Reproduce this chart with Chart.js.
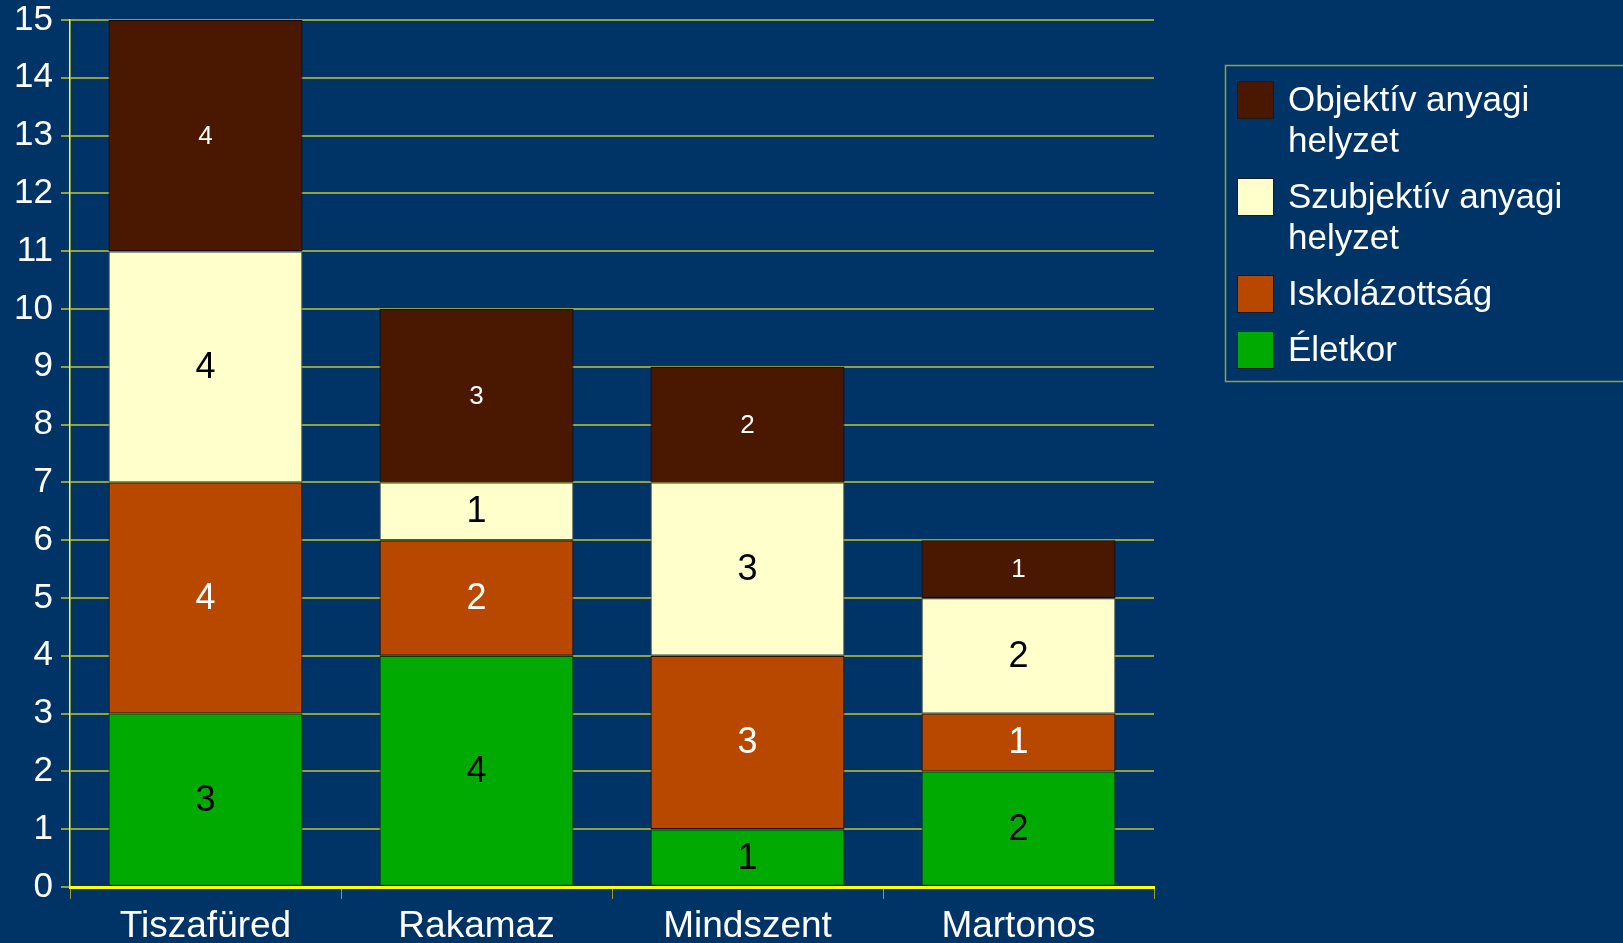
<!DOCTYPE html>
<html>
<head>
<meta charset="utf-8">
<script src="https://cdn.jsdelivr.net/npm/chart.js@4.4.1/dist/chart.umd.min.js"></script>
<style>
  html, body { margin: 0; padding: 0; background: #003366; overflow: hidden; }
  #wrap { width: 1623px; height: 943px; }
</style>
</head>
<body>
<div id="wrap"><canvas id="chart" width="1623" height="943"></canvas></div>
<script>
// Data
const towns = ["Tiszafüred", "Rakamaz", "Mindszent", "Martonos"];
const eletkor = [3, 4, 1, 2];
const iskolazottsag = [4, 2, 3, 1];
const szubjektiv = [4, 1, 3, 2];
const objektiv = [4, 3, 2, 1];
const yTicks = [0, 1, 2, 3, 4, 5, 6, 7, 8, 9, 10, 11, 12, 13, 14, 15];

const FONT = "'Liberation Sans', Arial, sans-serif";
const GRID = "#95a03a";

// value labels centred in each segment
const segmentLabels = {
  id: "segmentLabels",
  afterDatasetsDraw(chart) {
    const ctx = chart.ctx;
    chart.data.datasets.forEach((ds, i) => {
      const meta = chart.getDatasetMeta(i);
      meta.data.forEach((bar, j) => {
        const v = ds.data[j];
        if (!v) return;
        ctx.save();
        ctx.fillStyle = ds.labelColor;
        ctx.font = ds.labelSize + "px " + FONT;
        ctx.textAlign = "center";
        ctx.textBaseline = "middle";
        ctx.fillText(String(v), bar.x, (bar.y + bar.base) / 2 + 1);
        ctx.restore();
      });
    });
  }
};

// legend box on the right, wraps long names
const sideLegend = {
  id: "sideLegend",
  afterDraw(chart) {
    const ctx = chart.ctx;
    const boxX = 1225, boxY = 65, boxW = 420, boxH = 316;
    ctx.save();
    ctx.strokeStyle = GRID;
    ctx.lineWidth = 1.5;
    ctx.strokeRect(boxX + 0.5, boxY + 0.5, boxW, boxH);
    ctx.font = "35px " + FONT;
    ctx.textBaseline = "alphabetic";
    ctx.textAlign = "left";
    const maxW = 325, lineH = 41;
    let y = 81;
    const items = chart.data.datasets.slice().reverse();
    items.forEach(ds => {
      // wrap words
      const words = ds.label.split(" ");
      const lines = [];
      let cur = "";
      words.forEach(w => {
        const t = cur ? cur + " " + w : w;
        if (ctx.measureText(t).width > maxW && cur) { lines.push(cur); cur = w; }
        else cur = t;
      });
      lines.push(cur);
      ctx.fillStyle = ds.backgroundColor;
      ctx.fillRect(1237, y, 36, 37);
      ctx.strokeStyle = "#1a1a1a";
      ctx.lineWidth = 1;
      ctx.strokeRect(1237.5, y + 0.5, 36, 37);
      ctx.fillStyle = "#ffffff";
      lines.forEach((ln, k) => ctx.fillText(ln, 1288, y + 30 + k * lineH));
      y += lines.length === 1 ? 56 : 97;
    });
    ctx.restore();
  }
};

new Chart(document.getElementById("chart"), {
  type: "bar",
  data: {
    labels: towns,
    datasets: [
      { label: "Életkor", data: eletkor, backgroundColor: "#00aa00", borderColor: "#0a3a0a", labelColor: "#000000", labelSize: 36 },
      { label: "Iskolázottság", data: iskolazottsag, backgroundColor: "#b84800", borderColor: "#2a1000", labelColor: "#ffffff", labelSize: 36 },
      { label: "Szubjektív anyagi helyzet", data: szubjektiv, backgroundColor: "#ffffcc", borderColor: "#555544", labelColor: "#000000", labelSize: 36 },
      { label: "Objektív anyagi helyzet", data: objektiv, backgroundColor: "#4a1800", borderColor: "#1a0800", labelColor: "#ffffff", labelSize: 26 },
    ].map(d => Object.assign(d, { borderWidth: 1.2, borderSkipped: false, categoryPercentage: 1, barPercentage: 0.716 })),
  },
  options: {
    responsive: false,
    animation: false,
    layout: { padding: { top: 0, right: 469, left: 0, bottom: 0 } },
    plugins: { legend: { display: false }, tooltip: { enabled: false } },
    scales: {
      x: {
        stacked: true,
        grid: { display: true, drawOnChartArea: false, offset: true, color: GRID, tickLength: 12 },
        border: { color: "#ffff00", width: 3 },
        ticks: { color: "#ffffff", font: { family: FONT, size: 37 }, padding: 6 },
        afterFit: s => { s.height = 56; },
      },
      y: {
        stacked: true,
        min: 0,
        max: 15,
        afterBuildTicks: s => { s.ticks = yTicks.map(v => ({ value: v })); },
        grid: { color: GRID, lineWidth: 2, tickLength: 9 },
        border: { color: "#ffff00", width: 1.5 },
        ticks: { color: "#ffffff", font: { family: FONT, size: 35 }, padding: 8 },
        afterFit: s => { s.width = 70; s.paddingTop = 20; },
      },
    },
  },
  plugins: [segmentLabels, sideLegend],
});
</script>
</body>
</html>
